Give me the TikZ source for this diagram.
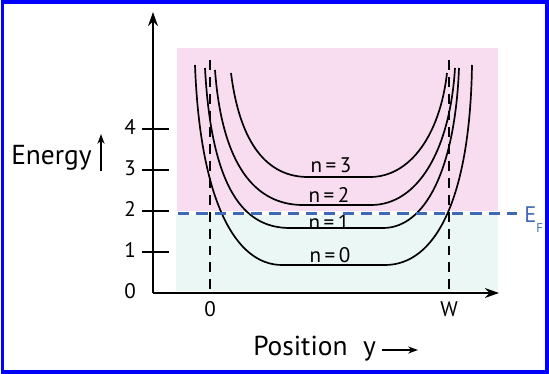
\documentclass[tikz,border=0pt]{standalone}
\usepackage{fontspec}
\setmainfont{PT Sans}
\usepackage{xcolor}
\usetikzlibrary{arrows.meta, positioning}

\definecolor{roz}{RGB}{248,221,240}
\definecolor{verde}{RGB}{235,247,244}
\definecolor{albastru}{RGB}{62,105,180}

\begin{document}
\begin{tikzpicture}[x=0.025cm, y=-0.025cm,
    axa/.style={-{Stealth[length=10pt, width=7pt]}, line width=1.4pt},
    curba/.style={line width=1.2pt},
    vert/.style={line width=1pt, dash pattern=on 7pt off 5pt},
    eticheta/.style={font=\fontsize{15}{17}\selectfont, inner sep=0pt}]
    \useasboundingbox (0,0) rectangle (549,374);
    % Chenar
    \draw[blue, line width=2.4pt] (2.5,2) rectangle (547,372);

    % Zone
    \fill[roz] (177,48) rectangle (498,211);
    \fill[verde] (176,215) rectangle (498,291);

    % Axe
    \coordinate (O) at (153,293);
    \coordinate (ytop) at (153,12);
    \coordinate (xend) at (499,293);
    \draw[axa] (O) -- (ytop);
    \draw[axa] (O) -- (xend);

    % Gradatii
    \foreach \e in {1,...,4} {
        \coordinate (tl\e) at (142, 293-41*\e);
        \coordinate (tr\e) at (169, 293-41*\e);
        \draw[line width=1.2pt] (tl\e) -- (tr\e);
    }
    \foreach \e in {0,...,4}
        \node[eticheta] (val\e) at (130, 291-41*\e) {\e};

    \node[eticheta] (x0) at (210,309) {0};
    \node[eticheta] (xW) at (449,309) {W};

    % Etichete nivele
    \node[eticheta] (n3) at (331,165) {n\hspace{2.5pt}=\hspace{2.5pt}3};
    \node[eticheta] (n2) at (329,195) {n\hspace{2.5pt}=\hspace{2.5pt}2};
    \node[eticheta] (n1) at (329,222) {n\hspace{2.5pt}=\hspace{2.5pt}1};
    \node[eticheta] (n0) at (330,255) {n\hspace{2.5pt}=\hspace{2.5pt}0};

    % Curbe
    \draw[curba] (195,65) .. controls (200,200) and (235,265) .. (282,265)
        -- (385,265) .. controls (435,265) and (470,200) .. (472,65);
    \draw[curba] (205,68) .. controls (212,200) and (250,228) .. (290,228)
        -- (383,228) .. controls (425,228) and (455,170) .. (459,68);
    \draw[curba] (215,70) .. controls (222,165) and (255,205) .. (303,205)
        -- (371,205) .. controls (418,205) and (450,150) .. (455,68);
    \draw[curba] (231,73) .. controls (240,145) and (268,177) .. (308,177)
        -- (370,177) .. controls (410,177) and (440,135) .. (447,73);

    % Linii verticale
    \coordinate (v0a) at (210,60);
    \coordinate (v0b) at (210,293);
    \coordinate (vWa) at (449,60);
    \coordinate (vWb) at (449,293);
    \draw[vert] (v0a) -- (v0b);
    \draw[vert] (vWa) -- (vWb);

    % Nivel Fermi
    \coordinate (ef0) at (178,213.5);
    \coordinate (ef1) at (517,213.5);
    \draw[albastru, line width=1.6pt, dash pattern=on 8pt off 5pt] (ef0) -- (ef1);
    \node[anchor=base west, inner sep=0pt, text=albastru, font=\fontsize{16}{18}\selectfont]
        (EF) at (524,223) {E\raisebox{-6.5pt}{\fontsize{9}{9}\selectfont F}};

    % Titluri axe
    \node[anchor=base west, inner sep=0pt, font=\fontsize{19.5}{22}\selectfont]
        (energy) at (11,165) {Energy};
    \coordinate (ea0) at (101,171);
    \coordinate (ea1) at (101,134);
    \draw[-{Stealth[length=7pt, width=5pt]}, line width=1.2pt] (ea0) -- (ea1);

    \node[anchor=base west, inner sep=0pt, font=\fontsize{19.5}{22}\selectfont]
        (pos) at (253,356) {Position\hspace{11pt}y};
    \coordinate (pa0) at (382,350);
    \coordinate (pa1) at (418,350);
    \draw[-{Stealth[length=7pt, width=5pt]}, line width=1.2pt] (pa0) -- (pa1);
\end{tikzpicture}
\end{document}
